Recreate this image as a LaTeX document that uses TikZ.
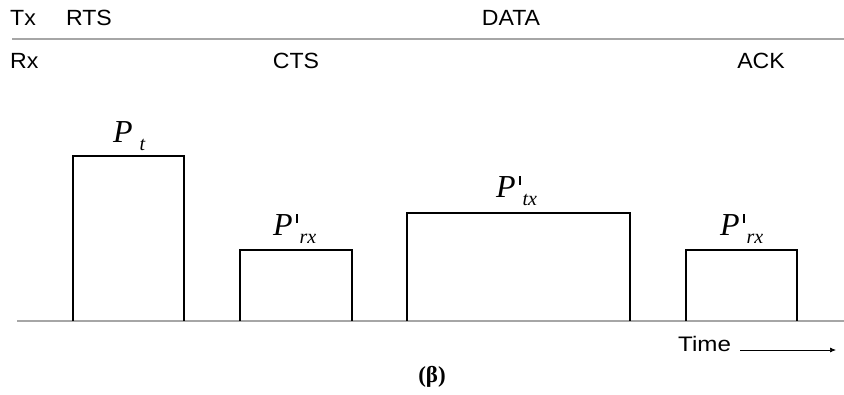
\documentclass[tikz,border=0pt]{standalone}
\usepackage{fontspec}
\setmainfont{Liberation Serif}
\newfontfamily\arial{Liberation Sans}
\usetikzlibrary{positioning,arrows.meta}

\newcommand\pwr[2]{{\fontsize{32}{34}\selectfont\itshape P}#1\raisebox{-8pt}{\fontsize{20}{22}\selectfont\itshape #2}}
\newcommand\prm{\kern3pt\rule[12.5pt]{2.4pt}{8.5pt}\kern1.5pt}

\begin{document}
\begin{tikzpicture}[x=1pt,y=-1pt,
    lbl/.style={font=\arial\fontsize{22}{24}\selectfont, inner sep=0pt},
    plbl/.style={inner sep=0pt, anchor=base west},
    pulse/.style={draw=black, line width=1.8pt},
    axis/.style={draw=black!35, line width=1.3pt}]
    \useasboundingbox (0,0) rectangle (844,394);

    % header rows
    \node[lbl, anchor=west] (tx) at (10,18) {\scalebox{1.05}[1]{Tx}};
    \node[lbl] (rts) at (89,18) {\scalebox{1.05}[1]{RTS}};
    \node[lbl] (data) at (511,18) {\scalebox{1.05}[1]{DATA}};
    \draw[axis] (12,39) -- (844,39);
    \node[lbl, anchor=west] (rx) at (10,61) {\scalebox{1.05}[1]{Rx}};
    \node[lbl] (cts) at (296,61) {\scalebox{1.05}[1]{CTS}};
    \node[lbl] (ack) at (761,61) {\scalebox{1.05}[1]{ACK}};

    % time axis
    \draw[axis] (17,321) -- (844,321);

    % RTS pulse
    \draw[pulse] (73,321) |- (184,156) -- (184,321);
    \node[plbl] (pt) at (113,142) {\pwr{\kern7pt}{t}};

    % CTS pulse
    \draw[pulse] (240,321) |- (352,250) -- (352,321);
    \node[plbl] (prx1) at (273,235) {\pwr{\prm}{rx}};

    % DATA pulse
    \draw[pulse] (407,321) |- (630,213) -- (630,321);
    \node[plbl] (ptx) at (496,197) {\pwr{\prm}{tx}};

    % ACK pulse
    \draw[pulse] (686,321) |- (797,250) -- (797,321);
    \node[plbl] (prx2) at (720,235) {\pwr{\prm}{rx}};

    % time arrow
    \node[lbl, font=\arial\fontsize{21}{23}\selectfont, anchor=west] (time) at (678,344) {\scalebox{1.15}[1]{Time}};
    \coordinate (tend) at (836,350);
    \draw[-{Latex[length=6pt,width=5pt]}, line width=0.7pt] (time.east |- tend) ++(9,0) -- (tend);

    % caption
    \node[inner sep=0pt, font=\fontsize{23}{26}\selectfont\bfseries] (cap) at (432,377) {(β)};
\end{tikzpicture}
\end{document}
